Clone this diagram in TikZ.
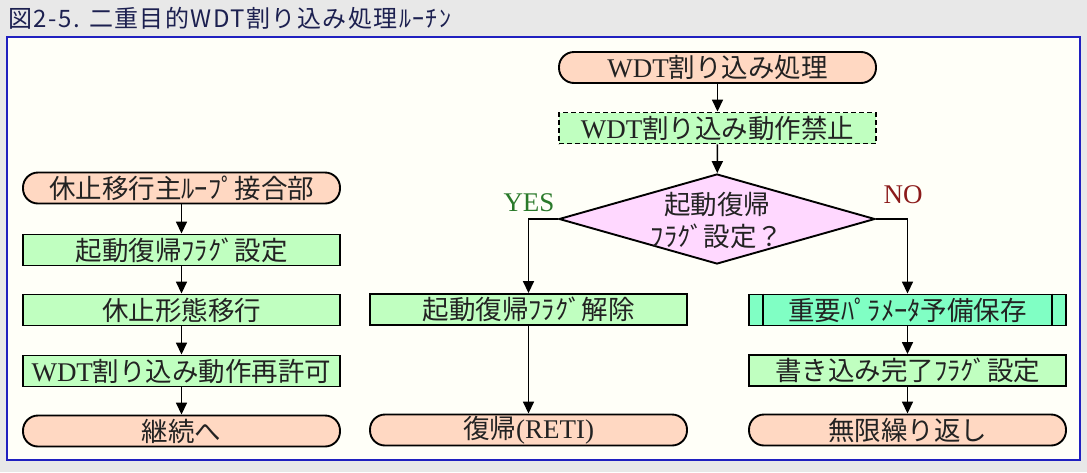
\documentclass[tikz,border=0pt]{standalone}
\usepackage{fontspec}
\setmainfont{Liberation Serif}
\newfontfamily\cjk{Noto Sans CJK JP}
\newfontfamily\lat{Liberation Serif}
\newcommand\latw[1]{{\lat\fontsize{27}{31}\selectfont #1}}
\usetikzlibrary{arrows.meta,shapes.geometric}
\definecolor{bggray}{HTML}{E8E8E8}
\definecolor{ivory}{HTML}{FFFFF8}
\definecolor{framecol}{HTML}{2020C0}
\definecolor{titlecol}{HTML}{1C2050}
\definecolor{termfill}{HTML}{FFD8C2}
\definecolor{procfill}{HTML}{C0FFC0}
\definecolor{diafill}{HTML}{FFD8FF}
\definecolor{predfill}{HTML}{80FFC4}
\definecolor{textcol}{HTML}{222222}
\definecolor{yescol}{HTML}{2A7A2A}
\definecolor{nocol}{HTML}{8B1A1A}
\begin{document}
\begin{tikzpicture}[x=1pt,y=-1pt,
  boxfont/.style={font=\cjk\fontsize{26.5}{32}\selectfont, text=textcol},
  term/.style={draw, line width=1.9pt, fill=termfill, rounded corners=15pt,
    minimum width=317pt, minimum height=31pt, inner sep=0pt, boxfont},
  procbox/.style={draw, line width=1.9pt, fill=procfill,
    minimum width=317pt, minimum height=31pt, inner sep=0pt, boxfont},
  dashbox/.style={procbox, dash pattern=on 5pt off 3pt},
  predbox/.style={procbox, fill=predfill},
  decision/.style={diamond, draw, line width=1.9pt, fill=diafill,
    minimum width=316pt, minimum height=90pt, inner sep=0pt},
  arr/.style={-{Triangle[length=12pt,width=11pt]}, line width=1.6pt},
  lab/.style={font=\lat\fontsize{27}{29}\selectfont}
]
\useasboundingbox (0,0) rectangle (1087,472);
\fill[bggray] (0,0) rectangle (1087,472);
\draw[framecol, line width=2pt, fill=ivory] (7,37) rectangle (1080,460);

\node[anchor=west, text=titlecol, font=\cjk\fontsize{24}{25}\selectfont\addfontfeature{LetterSpace=6}] (title) at (5,18) {図2-5. 二重目的WDT割り込み処理ﾙｰﾁﾝ};

% left column
\node[term]    (lt1) at (181.5,188) {休止移行主ﾙｰﾌﾟ接合部};
\node[procbox] (lb1) at (181.5,250) {起動復帰ﾌﾗｸﾞ設定};
\node[procbox] (lb2) at (181.5,310) {休止形態移行};
\node[procbox] (lb3) at (181.5,371) {\latw{WDT}割り込み動作再許可};
\node[term]    (lt2) at (181.5,431) {継続へ};

% center column
\node[term]    (ct1) at (717.5,67.5) {\latw{WDT}割り込み処理};
\node[dashbox] (cb1) at (717.5,128) {\latw{WDT}割り込み動作禁止};
\node[decision] (dia) at (717,219) {};
\node[boxfont, align=center, inner sep=0pt] (diatext) at (717,220) {起動復帰\\ﾌﾗｸﾞ設定？};

% YES branch
\node[procbox] (yb) at (528.5,309.5) {起動復帰ﾌﾗｸﾞ解除};
\node[term]    (yt) at (528.5,430) {復帰\latw{(RETI)}};

% NO branch
\node[predbox] (nb1) at (907.5,310) {重要ﾊﾟﾗﾒｰﾀ予備保存};
\node[procbox] (nb2) at (907.5,370.5) {書き込み完了ﾌﾗｸﾞ設定};
\node[term]    (nt)  at (907.5,430) {無限繰り返し};

\draw[line width=1.4pt] ([xshift=15pt]nb1.north west) -- ([xshift=15pt]nb1.south west);
\draw[line width=1.4pt] ([xshift=-15pt]nb1.north east) -- ([xshift=-15pt]nb1.south east);

% labels
\node[lab, text=yescol] (yes) at (529,203) {YES};
\node[lab, text=nocol]  (no)  at (903,195) {NO};

% connectors
\draw[arr] (lt1) -- (lb1);
\draw[arr] (lb1) -- (lb2);
\draw[arr] (lb2) -- (lb3);
\draw[arr] (lb3) -- (lt2);
\draw[arr] (ct1) -- (cb1);
\draw[arr] (cb1) -- (dia);
\draw[arr] (dia.west) -| (yb.north);
\draw[arr] (yb) -- (yt);
\draw[arr] (dia.east) -| (nb1.north);
\draw[arr] (nb1) -- (nb2);
\draw[arr] (nb2) -- (nt);
\end{tikzpicture}
\end{document}
